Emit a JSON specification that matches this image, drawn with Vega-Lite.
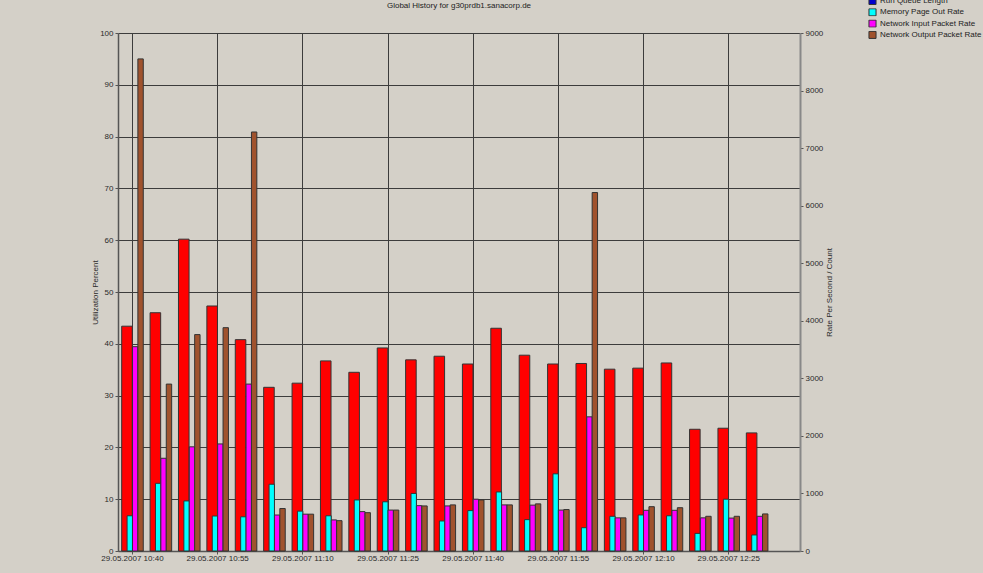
{
  "$schema": "https://vega.github.io/schema/vega-lite/v6.json",
  "width": 682,
  "height": 518,
  "autosize": {"type": "none"},
  "padding": {"left": 118, "top": 33, "right": 183, "bottom": 22},
  "background": "#D4D0C8",
  "title": {"text": "Global History for g30prdb1.sanacorp.de", "fontSize": 8, "fontWeight": "normal", "font": "Liberation Sans", "color": "#222", "offset": -13, "anchor": "middle", "frame": "group"},
  "config": {
    "view": {"stroke": null},
    "font": "Liberation Sans",
    "axis": {"labelFont": "Liberation Sans", "labelFontSize": 8, "labelColor": "#2a2a2a", "titleFont": "Liberation Sans", "titleFontSize": 8, "titleFontWeight": "normal", "titleColor": "#2a2a2a", "tickColor": "#555", "tickSize": 3, "domainColor": "#555", "gridColor": "#3c3c3c", "gridOpacity": 1, "gridWidth": 1}
  },
  "data": {"values": [
    {"time": "10:40", "series": "CPU Utilization", "value": 43.4},
    {"time": "10:45", "series": "CPU Utilization", "value": 46.0},
    {"time": "10:50", "series": "CPU Utilization", "value": 60.2},
    {"time": "10:55", "series": "CPU Utilization", "value": 47.3},
    {"time": "11:00", "series": "CPU Utilization", "value": 40.8},
    {"time": "11:05", "series": "CPU Utilization", "value": 31.6},
    {"time": "11:10", "series": "CPU Utilization", "value": 32.4},
    {"time": "11:15", "series": "CPU Utilization", "value": 36.7},
    {"time": "11:20", "series": "CPU Utilization", "value": 34.5},
    {"time": "11:25", "series": "CPU Utilization", "value": 39.2},
    {"time": "11:30", "series": "CPU Utilization", "value": 36.9},
    {"time": "11:35", "series": "CPU Utilization", "value": 37.6},
    {"time": "11:40", "series": "CPU Utilization", "value": 36.1},
    {"time": "11:45", "series": "CPU Utilization", "value": 43.0},
    {"time": "11:50", "series": "CPU Utilization", "value": 37.8},
    {"time": "11:55", "series": "CPU Utilization", "value": 36.1},
    {"time": "12:00", "series": "CPU Utilization", "value": 36.2},
    {"time": "12:05", "series": "CPU Utilization", "value": 35.1},
    {"time": "12:10", "series": "CPU Utilization", "value": 35.3},
    {"time": "12:15", "series": "CPU Utilization", "value": 36.3},
    {"time": "12:20", "series": "CPU Utilization", "value": 23.5},
    {"time": "12:25", "series": "CPU Utilization", "value": 23.7},
    {"time": "12:30", "series": "CPU Utilization", "value": 22.8},

    {"time": "10:40", "series": "Memory Page Out Rate", "value": 612},
    {"time": "10:45", "series": "Memory Page Out Rate", "value": 1176},
    {"time": "10:50", "series": "Memory Page Out Rate", "value": 870},
    {"time": "10:55", "series": "Memory Page Out Rate", "value": 608},
    {"time": "11:00", "series": "Memory Page Out Rate", "value": 594},
    {"time": "11:05", "series": "Memory Page Out Rate", "value": 1160},
    {"time": "11:10", "series": "Memory Page Out Rate", "value": 693},
    {"time": "11:15", "series": "Memory Page Out Rate", "value": 612},
    {"time": "11:20", "series": "Memory Page Out Rate", "value": 887},
    {"time": "11:25", "series": "Memory Page Out Rate", "value": 855},
    {"time": "11:30", "series": "Memory Page Out Rate", "value": 1000},
    {"time": "11:35", "series": "Memory Page Out Rate", "value": 522},
    {"time": "11:40", "series": "Memory Page Out Rate", "value": 702},
    {"time": "11:45", "series": "Memory Page Out Rate", "value": 1026},
    {"time": "11:50", "series": "Memory Page Out Rate", "value": 545},
    {"time": "11:55", "series": "Memory Page Out Rate", "value": 1341},
    {"time": "12:00", "series": "Memory Page Out Rate", "value": 405},
    {"time": "12:05", "series": "Memory Page Out Rate", "value": 603},
    {"time": "12:10", "series": "Memory Page Out Rate", "value": 626},
    {"time": "12:15", "series": "Memory Page Out Rate", "value": 612},
    {"time": "12:20", "series": "Memory Page Out Rate", "value": 306},
    {"time": "12:25", "series": "Memory Page Out Rate", "value": 900},
    {"time": "12:30", "series": "Memory Page Out Rate", "value": 279},

    {"time": "10:40", "series": "Network Input Packet Rate", "value": 3550},
    {"time": "10:45", "series": "Network Input Packet Rate", "value": 1611},
    {"time": "10:50", "series": "Network Input Packet Rate", "value": 1810},
    {"time": "10:55", "series": "Network Input Packet Rate", "value": 1860},
    {"time": "11:00", "series": "Network Input Packet Rate", "value": 2900},
    {"time": "11:05", "series": "Network Input Packet Rate", "value": 625},
    {"time": "11:10", "series": "Network Input Packet Rate", "value": 640},
    {"time": "11:15", "series": "Network Input Packet Rate", "value": 540},
    {"time": "11:20", "series": "Network Input Packet Rate", "value": 684},
    {"time": "11:25", "series": "Network Input Packet Rate", "value": 711},
    {"time": "11:30", "series": "Network Input Packet Rate", "value": 788},
    {"time": "11:35", "series": "Network Input Packet Rate", "value": 783},
    {"time": "11:40", "series": "Network Input Packet Rate", "value": 900},
    {"time": "11:45", "series": "Network Input Packet Rate", "value": 801},
    {"time": "11:50", "series": "Network Input Packet Rate", "value": 797},
    {"time": "11:55", "series": "Network Input Packet Rate", "value": 711},
    {"time": "12:00", "series": "Network Input Packet Rate", "value": 2331},
    {"time": "12:05", "series": "Network Input Packet Rate", "value": 576},
    {"time": "12:10", "series": "Network Input Packet Rate", "value": 707},
    {"time": "12:15", "series": "Network Input Packet Rate", "value": 707},
    {"time": "12:20", "series": "Network Input Packet Rate", "value": 576},
    {"time": "12:25", "series": "Network Input Packet Rate", "value": 572},
    {"time": "12:30", "series": "Network Input Packet Rate", "value": 603},

    {"time": "10:40", "series": "Network Output Packet Rate", "value": 8550},
    {"time": "10:45", "series": "Network Output Packet Rate", "value": 2900},
    {"time": "10:50", "series": "Network Output Packet Rate", "value": 3760},
    {"time": "10:55", "series": "Network Output Packet Rate", "value": 3880},
    {"time": "11:00", "series": "Network Output Packet Rate", "value": 7280},
    {"time": "11:05", "series": "Network Output Packet Rate", "value": 738},
    {"time": "11:10", "series": "Network Output Packet Rate", "value": 640},
    {"time": "11:15", "series": "Network Output Packet Rate", "value": 527},
    {"time": "11:20", "series": "Network Output Packet Rate", "value": 666},
    {"time": "11:25", "series": "Network Output Packet Rate", "value": 711},
    {"time": "11:30", "series": "Network Output Packet Rate", "value": 783},
    {"time": "11:35", "series": "Network Output Packet Rate", "value": 801},
    {"time": "11:40", "series": "Network Output Packet Rate", "value": 887},
    {"time": "11:45", "series": "Network Output Packet Rate", "value": 801},
    {"time": "11:50", "series": "Network Output Packet Rate", "value": 819},
    {"time": "11:55", "series": "Network Output Packet Rate", "value": 720},
    {"time": "12:00", "series": "Network Output Packet Rate", "value": 6228},
    {"time": "12:05", "series": "Network Output Packet Rate", "value": 576},
    {"time": "12:10", "series": "Network Output Packet Rate", "value": 770},
    {"time": "12:15", "series": "Network Output Packet Rate", "value": 752},
    {"time": "12:20", "series": "Network Output Packet Rate", "value": 603},
    {"time": "12:25", "series": "Network Output Packet Rate", "value": 603},
    {"time": "12:30", "series": "Network Output Packet Rate", "value": 644}
  ]},
  "encoding": {
    "x": {
      "field": "time", "type": "ordinal",
      "scale": {"domain": ["10:40","10:45","10:50","10:55","11:00","11:05","11:10","11:15","11:20","11:25","11:30","11:35","11:40","11:45","11:50","11:55","12:00","12:05","12:10","12:15","12:20","12:25","12:30","12:35"], "paddingInner": 0.24, "paddingOuter": 0.13},
      "axis": {"title": null, "values": ["10:40","10:55","11:10","11:25","11:40","11:55","12:10","12:25"], "labelExpr": "'29.05.2007 ' + datum.value", "labelAngle": 0, "labelPadding": 0, "grid": true, "domainWidth": 1.5}
    },
    "color": {
      "field": "series", "type": "nominal",
      "scale": {"domain": ["CPU Utilization","Run Queue Length","Memory Page Out Rate","Network Input Packet Rate","Network Output Packet Rate"], "range": ["#FF0000","#0000CC","#00FFFF","#FF00FF","#A0522D"]},
      "legend": {"orient": "none", "legendX": 750, "legendY": -36, "title": null, "values": ["Run Queue Length","Memory Page Out Rate","Network Input Packet Rate","Network Output Packet Rate"], "symbolType": "square", "symbolSize": 50, "symbolStrokeColor": "#333", "symbolStrokeWidth": 1, "symbolOpacity": 1, "labelFontSize": 8, "labelColor": "#222", "labelOffset": 3, "rowPadding": 3.3, "clipHeight": 8, "padding": 0}
    }
  },
  "layer": [
    {
      "transform": [{"filter": "datum.series === 'CPU Utilization'"}],
      "mark": {"type": "bar", "width": {"band": 0.49}, "xOffset": -5.5, "stroke": "#333", "strokeWidth": 1, "opacity": 1},
      "encoding": {
        "y": {"field": "value", "type": "quantitative", "scale": {"domain": [0, 100]},
          "axis": {"title": "Utilization Percent", "values": [0,10,20,30,40,50,60,70,80,90,100], "grid": true, "labelPadding": 2, "titlePadding": 0, "domainWidth": 1.5}}
      }
    },
    {
      "transform": [{"filter": "datum.series !== 'CPU Utilization'"}],
      "mark": {"type": "bar", "stroke": "#333", "strokeWidth": 1, "opacity": 1},
      "encoding": {
        "xOffset": {"field": "series", "scale": {"domain": ["Run Queue Length","Memory Page Out Rate","Network Input Packet Rate","Network Output Packet Rate"]}},
        "y": {"field": "value", "type": "quantitative", "scale": {"domain": [0, 9000]},
          "axis": {"orient": "right", "title": "Rate Per Second / Count", "titleAngle": 270, "titleBaseline": "top", "format": "d", "values": [0,1000,2000,3000,4000,5000,6000,7000,8000,9000], "grid": false, "labelPadding": 2, "titlePadding": 3, "domainColor": "#888", "domainWidth": 2}}
      }
    }
  ],
  "resolve": {"scale": {"y": "independent"}}
}
